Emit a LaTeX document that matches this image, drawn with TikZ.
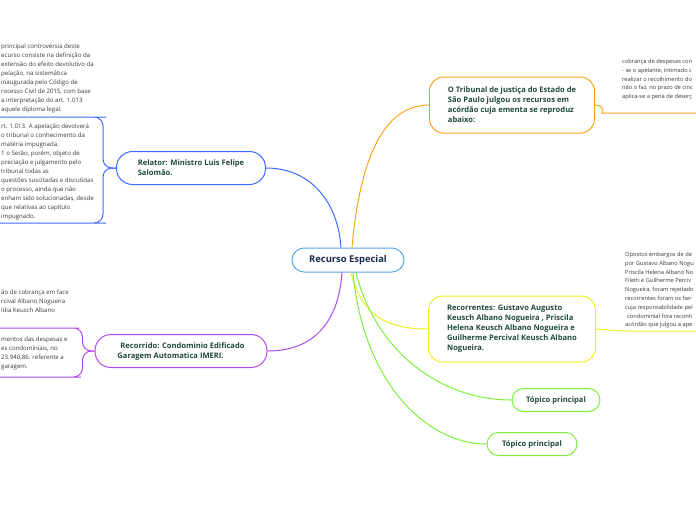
\documentclass[tikz,border=0pt]{standalone}
\usepackage{fontspec}
\setmainfont{Open Sans}
\usepackage{tikz}
\definecolor{rootdraw}{HTML}{5AA5E6}
\definecolor{roottext}{HTML}{1B2A50}
\definecolor{topictext}{HTML}{1F4A3A}
\definecolor{notetext}{HTML}{383838}
\definecolor{reldraw}{HTML}{3D6BFF}
\definecolor{tribdraw}{HTML}{FFA31A}
\definecolor{recdraw}{HTML}{EEEE22}
\definecolor{topdraw}{HTML}{7CF03C}
\definecolor{rcddraw}{HTML}{B04AF0}
\tikzset{
  blk/.style={rectangle, fill=white, line width=1pt, align=left, font=\fontsize{7.6}{10}\selectfont\bfseries, text=topictext, inner sep=3pt},
  root/.style={blk, draw=rootdraw, rounded corners=12pt, minimum width=112pt, minimum height=24pt, align=center, font=\fontsize{9.4}{11}\selectfont\bfseries, text=roottext},
  rel/.style={blk, draw=reldraw, rounded corners=16pt},
  trib/.style={blk, draw=tribdraw, rounded corners=14pt},
  rec/.style={blk, draw=recdraw, rounded corners=14pt},
  top/.style={blk, draw=topdraw, rounded corners=11.5pt, align=center, minimum height=23pt},
  rcd/.style={blk, draw=rcddraw, rounded corners=16pt},
  note/.style={anchor=north west, inner sep=0pt, align=left, font=\fontsize{6.1}{9}\selectfont, text=notetext},
  rnote/.style={note, font=\fontsize{5.7}{8.8}\selectfont},
  link/.style={line width=1pt, rounded corners=9pt},
}
\begin{document}
\begin{tikzpicture}[x=1pt, y=-1pt]
  \useasboundingbox (0,0) rectangle (696,520);
  % main topic
  \node[root] (root) at (348,260) {Recurso Especial};
  % topics
  \node[rel, minimum width=149pt, minimum height=33pt] (relator) at (191,168)
    {Relator: Ministro Luis Felipe\\Salomão.};
  \node[trib, minimum width=165pt, minimum height=56pt] (tribunal) at (512,105)
    {O Tribunal de justiça do Estado de\\São Paulo julgou os recursos em\\acórdão cuja ementa se reproduz\\abaixo:};
  \node[rec, minimum width=167pt, minimum height=66pt] (recorr) at (512,329)
    {Recorrentes: Gustavo Augusto\\Keusch Albano Nogueira , Priscila\\Helena Keusch Albano Nogueira e\\Guilherme Percival Keusch Albano\\Nogueira.};
  \node[top, minimum width=88pt] (top1) at (556,400) {Tópico principal};
  \node[top, minimum width=90pt] (top2) at (532,444) {Tópico principal};
  \node[rcd, minimum width=172pt, minimum height=33pt] (recorrido) at (181,351)
    {\hspace*{3pt}Recorrido: Condominio Edificado\\Garagem Automatica IMERI.};
  \draw[link, draw=reldraw] ([xshift=-7pt]root.north) .. controls +(-3,-45) and +(45,0) .. (relator.east);
  \draw[link, draw=tribdraw] ([xshift=4pt]root.north) .. controls +(8,-90) and +(-45,0) .. (tribunal.west);
  \draw[link, draw=recdraw] ([xshift=3pt]root.south) .. controls +(10,40) and +(-45,0) .. (recorr.west);
  \draw[link, draw=topdraw] ([xshift=8pt]root.south) .. controls +(20,80) and +(-70,0) .. (top1.west);
  \draw[link, draw=topdraw] ([xshift=5pt]root.south) .. controls +(10,110) and +(-60,0) .. (top2.west);
  \draw[link, draw=rcddraw] ([xshift=-6pt]root.south) .. controls +(-3,45) and +(50,0) .. (recorrido.east);
  % subtopics of Relator
  \node[note] (rel1) at (1,44)
    {principal controvérsia deste\\ecurso consiste na definição da\\extensão do efeito devolutivo da\\pelação, na sistemática\\inaugurada pelo Código de\\rocesso Civil de 2015, com base\\a interpretação do art. 1.013\\aquele diploma legal.};
  \node[note] (rel2) at (1,124)
    {rt. 1.013. A apelação devolverá\\o tribunal o conhecimento da\\matéria impugnada.\\1 o Serão, porém, objeto de\\preciação e julgamento pelo\\tribunal todas as\\questões suscitadas e discutidas\\o processo, ainda que não\\enham sido solucionadas, desde\\que relativas ao capítulo\\impugnado.};
  \coordinate (rel1l) at (0,117);
  \coordinate (rel1r) at (97,117);
  \coordinate (rel2l) at (0,223);
  \coordinate (rel2r) at (97,223);
  \draw[link, draw=reldraw] (relator.west) -- ++(-13,0) |- (rel1r) -- (rel1l);
  \draw[link, draw=reldraw] (relator.west) -- ++(-13,0) |- (rel2r) -- (rel2l);
  % subtopics of Recorrido
  \node[note] (rcd1) at (1,290)
    {ão de cobrança em face\\rcival Albano Nogueira\\ídia Keusch Albano};
  \node[note] (rcd2) at (1,337)
    {mentos das despesas e\\es condominiais, no\\23.940,86. referente a\\garagem.};
  \coordinate (rcd1l) at (0,328);
  \coordinate (rcd1r) at (70,328);
  \coordinate (rcd2l) at (0,377);
  \coordinate (rcd2r) at (72,377);
  \draw[link, draw=rcddraw] (recorrido.west) -- ++(-12,0) |- (rcd1r) -- (rcd1l);
  \draw[link, draw=rcddraw] (recorrido.west) -- ++(-12,0) |- (rcd2r) -- (rcd2l);
  % subtopic of Tribunal
  \node[rnote] (trib1) at (622,59)
    {cobrança de despesas con\\- se o apelante, intimado c\\realizar o recolhimento do\\não o faz, no prazo de cinc\\aplica-se a pena de deserç};
  \coordinate (trib1l) at (611,113);
  \coordinate (trib1r) at (696,113);
  \draw[link, draw=tribdraw] (tribunal.east) .. controls +(9,0) and +(-7,0) .. (trib1l) -- (trib1r);
  % subtopic of Recorrentes
  \node[rnote] (rec1) at (625,252)
    {Opostos embargos de de\\por Gustavo Albano Nogu\\Priscila Helena Albano No\\Filetti e Guilherme Perciv\\Nogueira, foram rejeitado\\recorrentes foram os her\\cuja responsabilidade pel\\\hspace*{2pt}condominial fora reconh\\acórdão que julgou a ape};
  \coordinate (rec1l) at (620,331);
  \coordinate (rec1r) at (696,331);
  \draw[link, draw=recdraw] (recorr.east) -- (rec1l) -- (rec1r);
\end{tikzpicture}
\end{document}
